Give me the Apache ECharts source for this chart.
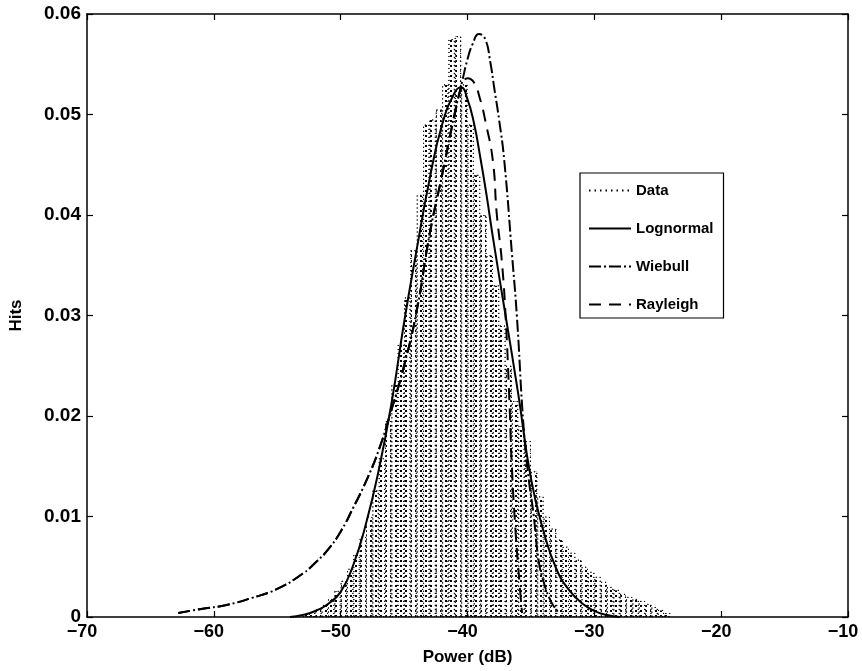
<!DOCTYPE html>
<html>
<head>
<meta charset="utf-8">
<script src="https://cdn.jsdelivr.net/npm/echarts@6/dist/echarts.min.js"></script>
<style>
html,body{margin:0;padding:0;background:#fff;}
#c{width:862px;height:671px;}
</style>
</head>
<body>
<div id="c"></div>
<script>
// Histogram (Data) bin centres, dB, and heights
const histX = [-52.75,-52.25,-51.75,-51.25,-50.75,-50.25,-49.75,-49.25,-48.75,-48.25,
  -47.75,-47.25,-46.75,-46.25,-45.75,-45.25,-44.75,-44.25,-43.75,-43.25,
  -42.75,-42.25,-41.75,-41.25,-40.75,-40.25,-39.75,-39.25,-38.75,-38.25,
  -37.75,-37.25,-36.75,-36.25,-35.75,-35.25,-34.75,-34.25,-33.75,-33.25,
  -32.75,-32.25,-31.75,-31.25,-30.75,-30.25,-29.75,-29.25,-28.75,-28.25,
  -27.75,-27.25,-26.75,-26.25,-25.75,-25.25,-24.75,-24.25];
const histY = [0.0003,0.0005,0.0008,0.0012,0.0018,0.0026,0.0036,0.0048,0.0062,0.0080,
  0.0100,0.0126,0.0158,0.0195,0.0232,0.0272,0.0318,0.0365,0.0420,0.0490,
  0.0495,0.0505,0.0530,0.0575,0.0578,0.0530,0.0490,0.0440,0.0400,0.0360,
  0.0330,0.0290,0.0250,0.0215,0.0190,0.0175,0.0145,0.0120,0.0100,0.0088,
  0.0077,0.0070,0.0064,0.0057,0.0050,0.0045,0.0040,0.0035,0.0030,0.0027,
  0.0023,0.0020,0.0018,0.0016,0.0013,0.0010,0.0007,0.0004];

// Lognormal fit
const lognX = [-54,-53,-52,-51,-50,-49,-48,-47,-46,-45,-44,-43,-42,-41,-40.5,-40,-39.5,-39,-38.5,-38,-37,-36,-35,-34,-33,-32,-31,-30,-29,-28];
const lognY = [0.0000,0.0002,0.0006,0.0013,0.0025,0.0052,0.0093,0.0146,0.0212,0.0293,0.0366,0.0435,0.0490,0.0522,0.0527,0.0515,0.0492,0.0458,0.0420,0.0378,0.0300,0.0222,0.0138,0.0085,0.0048,0.0027,0.0014,0.0006,0.0002,0.0000];

// Wiebull fit
const weibX = [-62.8,-61,-59,-57,-55,-53,-52,-51,-50,-49,-48,-47,-46,-45,-44,-43,-42,-41,-40.4,-40,-39.6,-39.1,-38.6,-38.2,-37.9,-37.5,-37.1,-36.5,-36.1,-35.6,-35.2,-34.8,-34.4,-34.0,-33.4,-32.8];
const weibY = [0.0004,0.0008,0.0012,0.0019,0.0028,0.0043,0.0054,0.0067,0.0085,0.0109,0.0135,0.0166,0.0206,0.0250,0.0305,0.0380,0.0440,0.0502,0.0534,0.0555,0.0570,0.0580,0.0575,0.0552,0.0527,0.0494,0.0454,0.0362,0.0298,0.0193,0.0140,0.0103,0.0057,0.0035,0.0015,0.0004];

// Rayleigh fit
const raylX = [-62.8,-61,-59,-57,-55,-53,-52,-51,-50,-49,-48,-47,-46,-45,-44,-43,-42,-41,-40.4,-40,-39.5,-39,-38.6,-38,-37.7,-37.3,-37,-36.7,-36.5,-36.2,-35.9,-35.7];
const raylY = [0.0004,0.0008,0.0012,0.0019,0.0028,0.0043,0.0054,0.0067,0.0085,0.0109,0.0135,0.0166,0.0206,0.0250,0.0305,0.0380,0.0440,0.0500,0.0530,0.0536,0.0532,0.0515,0.0494,0.0454,0.0402,0.0355,0.0300,0.0216,0.0149,0.0083,0.0034,0.0004];

const legendNames = ['Data','Lognormal','Wiebull','Rayleigh'];
const xTitle = 'Power (dB)';
const yTitle = 'Hits';

const pair = (xs, ys) => xs.map((x, i) => [x, ys[i]]);
const FONT = 'Liberation Sans, Arial, Helvetica, sans-serif';
const minus = s => String(s).replace('-', '\u2212');

const chart = echarts.init(document.getElementById('c'), null, {renderer: 'canvas'});
const axisLine = {show: true, onZero: false, lineStyle: {color: '#000', width: 1.5}};
const tick = {show: true, inside: true, length: 6, lineStyle: {color: '#000', width: 1.2}};

chart.setOption({
  animation: false,
  backgroundColor: '#fff',
  grid: {left: 82, right: 14, top: 14, bottom: 54, containLabel: false},
  legend: {
    data: legendNames,
    orient: 'vertical',
    left: 580, top: 173,
    itemWidth: 42, itemHeight: 14, itemGap: 23,
    padding: [10, 10, 6, 8],
    backgroundColor: '#fff',
    borderColor: '#000', borderWidth: 1.2, borderRadius: 0,
    itemStyle: {opacity: 0},
    lineStyle: {opacity: 1},
    textStyle: {fontFamily: FONT, fontSize: 15, fontWeight: 'bold', color: '#000'}
  },
  xAxis: [{
    type: 'value', min: -70, max: -10, interval: 10, position: 'bottom',
    name: xTitle, nameLocation: 'middle', nameGap: 32,
    nameTextStyle: {fontFamily: FONT, fontSize: 17, fontWeight: 'bold', color: '#000'},
    axisLine: axisLine, axisTick: tick, splitLine: {show: false},
    axisLabel: {margin: 6, padding: [0, 10, 0, 0], fontFamily: FONT, fontSize: 18, fontWeight: 'bold', color: '#000', formatter: v => minus(v)}
  }, {
    type: 'value', min: -70, max: -10, interval: 10, position: 'top',
    axisLine: axisLine, axisTick: tick, splitLine: {show: false}, axisLabel: {show: false}
  }],
  yAxis: [{
    type: 'value', min: 0, max: 0.06, interval: 0.01, position: 'left',
    name: yTitle, nameLocation: 'middle', nameGap: 62, nameRotate: 90,
    nameTextStyle: {fontFamily: FONT, fontSize: 17, fontWeight: 'bold', color: '#000'},
    axisLine: axisLine, axisTick: tick, splitLine: {show: false},
    axisLabel: {margin: 6, fontFamily: FONT, fontSize: 19, fontWeight: 'bold', color: '#000',
      formatter: v => v === 0 ? '0' : v.toFixed(2)}
  }, {
    type: 'value', min: 0, max: 0.06, interval: 0.01, position: 'right',
    axisLine: axisLine, axisTick: tick, splitLine: {show: false}, axisLabel: {show: false}
  }],
  series: [
    {
      name: 'hist', type: 'bar', xAxisIndex: 0, yAxisIndex: 0,
      data: pair(histX, histY), barWidth: 6.4, barGap: '-100%',
      itemStyle: {
        color: 'rgba(255,255,255,0)', borderColor: '#000', borderWidth: 1, borderType: [1, 3],
        decal: {symbol: 'rect', symbolSize: 1, color: '#000', dashArrayX: [1.5, 2.5], dashArrayY: [1.5, 2.5], rotation: 0}
      },
      emphasis: {disabled: true}, z: 1
    },
    {
      name: 'Data', type: 'line', data: [], showSymbol: false,
      lineStyle: {color: '#000', width: 1.5, type: [1.5, 4]}, itemStyle: {color: '#000'}
    },
    {
      name: 'Lognormal', type: 'line', data: pair(lognX, lognY), showSymbol: false,
      smooth: 0.5,
      lineStyle: {color: '#000', width: 2}, itemStyle: {color: '#000'}, z: 3
    },
    {
      name: 'Wiebull', type: 'line', data: pair(weibX, weibY), showSymbol: false,
      smooth: 0.5,
      lineStyle: {color: '#000', width: 2, type: [12, 3, 2, 3]}, itemStyle: {color: '#000'}, z: 3
    },
    {
      name: 'Rayleigh', type: 'line', data: pair(raylX, raylY), showSymbol: false,
      smooth: 0.5,
      lineStyle: {color: '#000', width: 2, type: [12, 8]}, itemStyle: {color: '#000'}, z: 3
    }
  ]
});
</script>
</body>
</html>
